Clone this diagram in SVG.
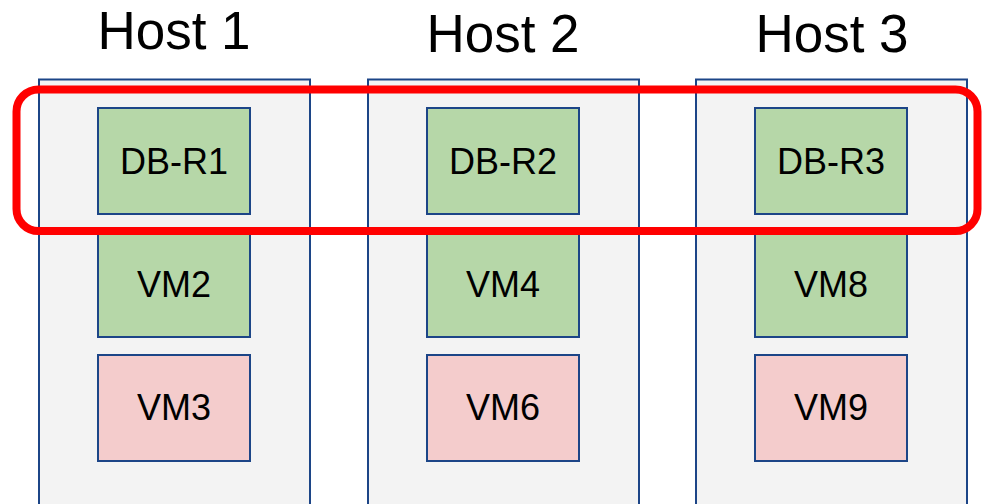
<svg xmlns="http://www.w3.org/2000/svg" width="982" height="504" viewBox="0 0 982 504">
  <style>
    .host { fill: #f3f3f3; stroke: #1c4587; stroke-width: 2; }
    .vm { stroke: #1c4587; stroke-width: 2; }
    .db, .ok { fill: #b6d7a8; }
    .bad { fill: #f4cccc; }
    .title { font-family: "Liberation Sans", Arial, sans-serif; font-size: 53px; fill: #000; text-anchor: middle; }
    .label { font-family: "Liberation Sans", Arial, sans-serif; font-size: 36px; fill: #000; text-anchor: middle; }
    .replica-set { fill: none; stroke: #ff0000; stroke-width: 8; }
  </style>

  <rect width="982" height="504" fill="#ffffff"/>

  <!-- Host 1 -->
  <g id="host1">
    <text class="title" x="174" y="49">Host 1</text>
    <rect class="host" x="39" y="79.5" width="271" height="440"/>
    <g id="db-r1">
      <rect class="vm db" x="98" y="108" width="152" height="106"/>
      <text class="label" x="174" y="174">DB-R1</text>
    </g>
    <g id="vm2">
      <rect class="vm ok" x="98" y="231" width="152" height="106"/>
      <text class="label" x="174" y="297">VM2</text>
    </g>
    <g id="vm3">
      <rect class="vm bad" x="98" y="355" width="152" height="106"/>
      <text class="label" x="174" y="420">VM3</text>
    </g>
  </g>

  <!-- Host 2 -->
  <g id="host2">
    <text class="title" x="503" y="52">Host 2</text>
    <rect class="host" x="368" y="79.5" width="271" height="440"/>
    <g id="db-r2">
      <rect class="vm db" x="427" y="108" width="152" height="106"/>
      <text class="label" x="503" y="174">DB-R2</text>
    </g>
    <g id="vm4">
      <rect class="vm ok" x="427" y="231" width="152" height="106"/>
      <text class="label" x="503" y="297">VM4</text>
    </g>
    <g id="vm6">
      <rect class="vm bad" x="427" y="355" width="152" height="106"/>
      <text class="label" x="503" y="420">VM6</text>
    </g>
  </g>

  <!-- Host 3 -->
  <g id="host3">
    <text class="title" x="832" y="52">Host 3</text>
    <rect class="host" x="696" y="79.5" width="271" height="440"/>
    <g id="db-r3">
      <rect class="vm db" x="755" y="108" width="152" height="106"/>
      <text class="label" x="831" y="174">DB-R3</text>
    </g>
    <g id="vm8">
      <rect class="vm ok" x="755" y="231" width="152" height="106"/>
      <text class="label" x="831" y="297">VM8</text>
    </g>
    <g id="vm9">
      <rect class="vm bad" x="755" y="355" width="152" height="106"/>
      <text class="label" x="831" y="420">VM9</text>
    </g>
  </g>

  <!-- Replica set outline spanning all hosts -->
  <g id="connectors">
    <rect class="replica-set" x="16.5" y="89.5" width="961" height="141.5" rx="22" ry="22"/>
  </g>
</svg>
